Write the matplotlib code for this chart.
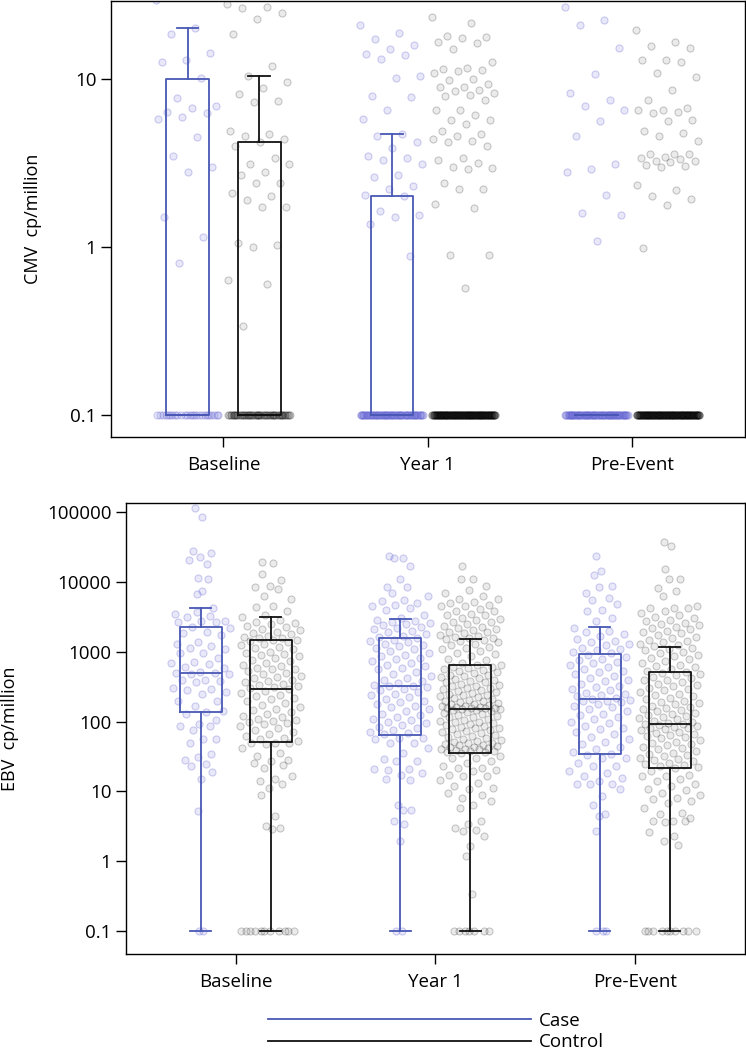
import matplotlib
matplotlib.use("Agg")
import matplotlib.pyplot as plt
from matplotlib.lines import Line2D
import numpy as np

plt.rcParams['font.family'] = ['Open Sans', 'DejaVu Sans']
plt.rcParams['font.size'] = 13.5

groups = ['Baseline', 'Year 1', 'Pre-Event']

# CMV, values above detection limit (cp/million); undetectable values sit at 0.1
cmv_base_case = [29.5, 20.2, 18.5, 14.2, 13.0, 12.7, 10.1, 7.7, 6.9, 6.7, 6.4, 6.3, 5.9, 5.8,
                 4.5, 3.5, 3.0, 2.8, 1.5, 1.15, 0.80]
cmv_base_ctrl = [27.8, 27.0, 26.5, 24.8, 22.7, 18.5, 11.9, 10.4, 9.6, 8.8, 8.1, 7.4, 7.3, 4.9,
                 4.7, 4.6, 4.4, 4.2, 4.0, 3.4, 3.1, 3.1, 2.8, 2.7, 2.4, 2.4, 2.1, 2.0, 1.9,
                 1.74, 1.74, 1.06, 1.03, 1.0, 0.64, 0.60, 0.34]
cmv_y1_case = [20.9, 18.9, 17.2, 15.9, 15.1, 14.0, 13.9, 13.2, 10.4, 10.2, 7.9, 7.8, 6.5, 5.8,
               4.7, 4.6, 4.2, 3.9, 3.5, 3.4, 3.3, 3.1, 2.7, 2.6, 2.3, 2.2, 2.05, 2.0, 1.64,
               1.56, 1.5, 1.38, 0.89]
cmv_y1_ctrl = [23.3, 21.4, 18.0, 17.9, 17.6, 16.5, 16.4, 15.0, 12.6, 11.7, 11.4, 11.3, 11.2,
               10.8, 10.0, 9.9, 9.3, 9.0, 9.0, 8.6, 8.5, 8.2, 8.0, 7.9, 7.5, 6.5, 6.5, 6.1,
               5.7, 5.7, 5.4, 4.9, 4.7, 4.6, 4.4, 4.3, 4.2, 4.0, 3.4, 3.3, 3.15, 3.0, 2.97,
               2.9, 2.4, 2.2, 2.2, 1.8, 1.7, 0.9, 0.9, 0.57]
cmv_pre_case = [27.0, 22.4, 20.9, 15.2, 10.7, 8.2, 7.5, 6.9, 6.5, 5.6, 4.6, 3.1, 2.9, 2.8,
                2.05, 1.6, 1.56, 1.09]
cmv_pre_ctrl = [19.5, 16.7, 15.7, 15.3, 13.0, 12.9, 12.6, 10.8, 10.3, 8.6, 7.5, 6.7, 6.5, 6.5,
                6.4, 6.25, 5.7, 5.6, 4.9, 4.8, 4.6, 4.3, 3.6, 3.6, 3.6, 3.45, 3.4, 3.36, 3.25,
                3.24, 3.2, 3.06, 3.05, 3.0, 2.33, 2.18, 2.0, 1.93, 1.77, 0.98]
cmv_case_nd = [25, 70, 80]      # number of undetectable samples per visit
cmv_ctrl_nd = [60, 150, 150]

# CMV box statistics
cmv_case_q3 = [10.0, 2.02, 0.1]
cmv_case_hi = [20.2, 4.69, 0.1]
cmv_ctrl_q3 = [4.24, 0.1, 0.1]
cmv_ctrl_hi = [10.4, 0.1, 0.1]

# EBV values
ebv_base_case = [115000, 86000, 27700, 26200, 23000, 21000, 18200, 11400, 11100, 7400, 6800,
                 4270, 3740, 3540, 3240, 3140, 2810, 2750, 2660, 2660, 2280, 2210, 1940, 1870,
                 1770, 1380, 1320, 1210, 1140, 1100, 970, 950, 820, 720, 700, 670, 600, 590,
                 510, 500, 500, 490, 475, 400, 390, 380, 370, 305, 290, 280, 265, 250, 200,
                 196, 170, 140, 138, 130, 107, 94, 88, 86, 75, 57, 57, 49, 34, 31, 28, 25, 23,
                 19, 15, 5.2]
ebv_base_ctrl = [19300, 18800, 13200, 10900, 8900, 8400, 8000, 6300, 5800, 4500, 4400, 3800,
                 3400, 3170, 2900, 2650, 2600, 2480, 2350, 2300, 2150, 2050, 1950, 1850, 1780,
                 1700, 1640, 1600, 1560, 1500, 1480, 1420, 1380, 1320, 1250, 1180, 1120, 1090,
                 1010, 980, 930, 890, 860, 820, 760, 730, 690, 650, 620, 590, 560, 560, 540,
                 500, 480, 455, 440, 420, 400, 380, 365, 350, 335, 320, 310, 300, 290, 275,
                 262, 245, 230, 222, 210, 198, 185, 172, 160, 152, 146, 138, 130, 122, 115,
                 108, 107, 103, 100, 97, 92, 86, 80, 76, 71, 66, 62, 59, 56, 53, 50, 50, 49,
                 48, 42, 36, 32, 28, 27, 26, 24, 22, 16.5, 15.2, 14, 13, 11.3, 9.0, 4.5, 3.25,
                 3.0, 2.9]
ebv_y1_case = [24000, 22300, 22300, 17300, 11200, 8500, 8400, 7000, 6300, 5600, 5300, 5000,
               4770, 4500, 4270, 4050, 3430, 3100, 2900, 2800, 2700, 2600, 2500, 2450, 2300,
               2200, 2100, 2000, 1900, 1800, 1700, 1650, 1600, 1500, 1450, 1380, 1300, 1250,
               1200, 1150, 1100, 1020, 960, 900, 870, 820, 780, 740, 700, 660, 620, 590, 560,
               520, 480, 450, 420, 400, 380, 360, 340, 330, 325, 310, 295, 280, 265, 250, 240,
               225, 210, 200, 190, 180, 170, 160, 150, 140, 130, 125, 118, 110, 105, 100, 95,
               90, 85, 80, 76, 72, 69, 66, 59, 58, 57, 50, 49, 42, 36, 29, 27, 27, 21, 21, 20,
               18.5, 17.5, 15, 14.8, 6.3, 5.5, 5.4, 3.75, 3.4, 1.94]
ebv_y1_ctrl = [16900, 11100, 11000, 8900, 7800, 7000, 6300, 5800, 5700, 5200, 5100, 4700, 4600,
               4500, 4100, 3900, 3800, 3500, 3400, 3350, 3100, 2950, 2900, 2700, 2650, 2500,
               2350, 2300, 2200, 2100, 2050, 1950, 1900, 1850, 1750, 1700, 1650, 1600, 1560,
               1530, 1480, 1430, 1400, 1310, 1260, 1190, 1120, 1100, 1040, 960, 930, 860, 800,
               760, 700, 655, 640, 610, 600, 585, 560, 545, 530, 520, 500, 470, 465, 450, 430,
               420, 415, 400, 380, 370, 365, 350, 340, 330, 320, 305, 300, 295, 280, 275, 270,
               260, 250, 245, 240, 230, 225, 215, 212, 205, 200, 195, 190, 185, 180, 178, 175,
               170, 168, 165, 160, 158, 157, 156, 155, 154, 150, 147, 145, 140, 138, 132, 128,
               125, 120, 118, 115, 110, 105, 103, 100, 98, 96, 92, 90, 88, 85, 82, 80, 78, 76,
               73, 71, 68, 66, 64, 62, 60, 58, 57, 55, 53, 52, 50, 49, 48, 47, 46, 45, 44, 43,
               42, 41, 40, 40, 39, 38, 38, 37, 37, 36, 32, 30, 30, 27, 26, 23, 22, 22, 20.6,
               19.5, 17.5, 16.6, 16.6, 14.8, 13.3, 11.9, 11.3, 10.7, 9.6, 9.0, 8.1, 7.3, 6.5,
               5.8, 3.75, 3.4, 3.0, 2.85, 2.7, 2.3, 1.64, 1.2, 0.34]
ebv_pre_case = [24000, 14300, 12800, 8700, 8500, 7000, 5900, 5600, 4800, 4050, 3830, 3070,
                2750, 2200, 2000, 1900, 1800, 1700, 1550, 1450, 1400, 1300, 1250, 1150, 1100,
                1050, 1000, 960, 900, 850, 800, 760, 720, 690, 640, 600, 560, 540, 510, 480,
                450, 420, 400, 380, 350, 330, 310, 290, 280, 260, 250, 240, 230, 220, 212, 205,
                200, 195, 190, 180, 170, 160, 150, 140, 130, 125, 118, 110, 100, 95, 88, 82,
                78, 72, 66, 60, 56, 52, 48, 44, 40, 37, 34, 33, 30, 30, 26, 23, 23, 19.5, 18.5,
                16.9, 15.7, 14, 13, 12.6, 12.6, 10.7, 8.6, 6.5, 4.7, 4.4, 2.75]
ebv_pre_ctrl = [37200, 32700, 15500, 11100, 11000, 8300, 7400, 6300, 4500, 4270, 4270, 4200,
                3900, 3600, 3400, 3200, 3050, 2900, 2800, 2600, 2500, 2400, 2300, 2200, 2100,
                2000, 1900, 1850, 1750, 1650, 1600, 1500, 1450, 1380, 1300, 1250, 1200, 1150,
                1100, 1050, 1000, 950, 900, 860, 820, 780, 740, 700, 660, 630, 600, 570, 540,
                510, 500, 480, 460, 440, 420, 400, 390, 370, 350, 340, 320, 300, 290, 280, 265,
                250, 240, 230, 220, 210, 200, 192, 185, 178, 170, 162, 155, 150, 145, 140, 135,
                130, 125, 120, 116, 112, 108, 104, 100, 97, 94, 92, 90, 88, 85, 82, 80, 78, 75,
                72, 70, 67, 65, 62, 60, 58, 55, 52, 50, 48, 46, 44, 42, 40, 38, 36, 35, 33, 32,
                30, 29, 28, 27, 26, 25, 24, 23, 22.5, 22, 19.5, 17.5, 16.6, 16.6, 15.2, 14,
                12.6, 11.9, 10.7, 10.4, 9.6, 9.0, 8.1, 7.7, 7.3, 6.9, 5.8, 4.9, 4.7, 4.2, 3.75,
                3.75, 3.75, 3.6, 2.6, 2.3, 1.94, 1.7]
ebv_case_nd = [2, 2, 3]
ebv_ctrl_nd = [11, 7, 10]

# EBV box statistics
ebv_case_q1 = [136, 65, 35]
ebv_case_med = [505, 329, 209]
ebv_case_q3 = [2300, 1570, 936]
ebv_case_hi = [4200, 2970, 2280]
ebv_ctrl_q1 = [51, 36, 21.5]
ebv_ctrl_med = [298, 154, 92]
ebv_ctrl_q3 = [1470, 658, 522]
ebv_ctrl_hi = [3170, 1515, 1180]

LOD = 0.1
case_col = '#4858b4'
ctrl_col = '#111111'
case_pt = dict(facecolors=(0.42, 0.42, 0.85, 0.15), edgecolors=(0.38, 0.38, 0.82, 0.30))
ctrl_pt = dict(facecolors=(0, 0, 0, 0.08), edgecolors=(0, 0, 0, 0.20))
off = 0.175
bw = 0.21


def jitter(vals, maxw, scaled):
    vals = np.asarray(vals, dtype=float)
    base = (np.arange(len(vals)) * 0.6180339887) % 1.0 - 0.5
    if not scaled:
        return base * 2 * maxw
    lv = np.log10(vals)
    dens = np.array([np.sum(np.abs(lv - v) < 0.2) for v in lv])
    w = maxw * np.clip(dens / 11.0, 0.12, 1.0)
    return base * 2 * w


def draw_points(ax, vals, nd, pos, style, scaled):
    v = np.concatenate([np.asarray(vals, float), np.repeat(LOD, nd)])
    x = pos + jitter(v, 0.155, scaled)
    ax.scatter(x, v, s=26, linewidths=0.8, zorder=2, **style)


def draw_boxes(ax, q1, med, q3, hi, positions, color):
    stats = [dict(q1=a, med=b, q3=c, whislo=LOD, whishi=d, fliers=[])
             for a, b, c, d in zip(q1, med, q3, hi)]
    lp = dict(color=color, linewidth=1.3)
    ax.bxp(stats, positions=positions, widths=bw, capwidths=bw / 2, showfliers=False,
           boxprops=lp, whiskerprops=lp, capprops=lp, medianprops=lp,
           manage_ticks=False, zorder=3)


def style_axes(ax, ylim, yticks, ylab):
    ax.set_yscale('log')
    ax.set_xlim(0.45, 3.55)
    ax.set_ylim(*ylim)
    ax.set_yticks(yticks)
    ax.set_yticklabels([('%g' % t) for t in yticks])
    ax.yaxis.set_minor_locator(matplotlib.ticker.NullLocator())
    ax.set_xticks([1, 2, 3])
    ax.set_xticklabels(groups)
    ax.tick_params(axis='both', length=7, width=1, labelsize=13.5)
    ax.tick_params(axis='x', pad=7)
    ax.set_ylabel(ylab, fontsize=13, labelpad=20)
    for s in ax.spines.values():
        s.set_linewidth(1)


fig = plt.figure(figsize=(7.46, 10.5), dpi=100)

# top panel: CMV
ax1 = fig.add_axes([0.1488, 0.5838, 0.8492, 0.4152])
pos = np.array([1, 2, 3])
for i, (cv, tv) in enumerate(zip([cmv_base_case, cmv_y1_case, cmv_pre_case],
                                 [cmv_base_ctrl, cmv_y1_ctrl, cmv_pre_ctrl])):
    draw_points(ax1, cv, cmv_case_nd[i], pos[i] - off, case_pt, False)
    draw_points(ax1, tv, cmv_ctrl_nd[i], pos[i] + off, ctrl_pt, False)
draw_boxes(ax1, [LOD] * 3, [LOD] * 3, cmv_case_q3, cmv_case_hi, pos - off, case_col)
draw_boxes(ax1, [LOD] * 3, [LOD] * 3, cmv_ctrl_q3, cmv_ctrl_hi, pos + off, ctrl_col)
style_axes(ax1, (0.074, 29.1), [0.1, 1, 10], 'CMV  cp/million')

# bottom panel: EBV
ax2 = fig.add_axes([0.1689, 0.0914, 0.8291, 0.4298])
for i, (cv, tv) in enumerate(zip([ebv_base_case, ebv_y1_case, ebv_pre_case],
                                 [ebv_base_ctrl, ebv_y1_ctrl, ebv_pre_ctrl])):
    draw_points(ax2, cv, ebv_case_nd[i], pos[i] - off, case_pt, True)
    draw_points(ax2, tv, ebv_ctrl_nd[i], pos[i] + off, ctrl_pt, True)
draw_boxes(ax2, ebv_case_q1, ebv_case_med, ebv_case_q3, ebv_case_hi, pos - off, case_col)
draw_boxes(ax2, ebv_ctrl_q1, ebv_ctrl_med, ebv_ctrl_q3, ebv_ctrl_hi, pos + off, ctrl_col)
style_axes(ax2, (0.0468, 137400), [0.1, 1, 10, 100, 1000, 10000, 100000], 'EBV  cp/million')

handles = [Line2D([], [], color=case_col, lw=1.3), Line2D([], [], color=ctrl_col, lw=1.3)]
fig.legend(handles, ['Case', 'Control'], loc='upper left', bbox_to_anchor=(0.347, 0.0455),
           frameon=False, borderpad=0, handlelength=14.0, handletextpad=0.45,
           labelspacing=0.2, fontsize=13.5)

fig.savefig('out.png', dpi=100)
